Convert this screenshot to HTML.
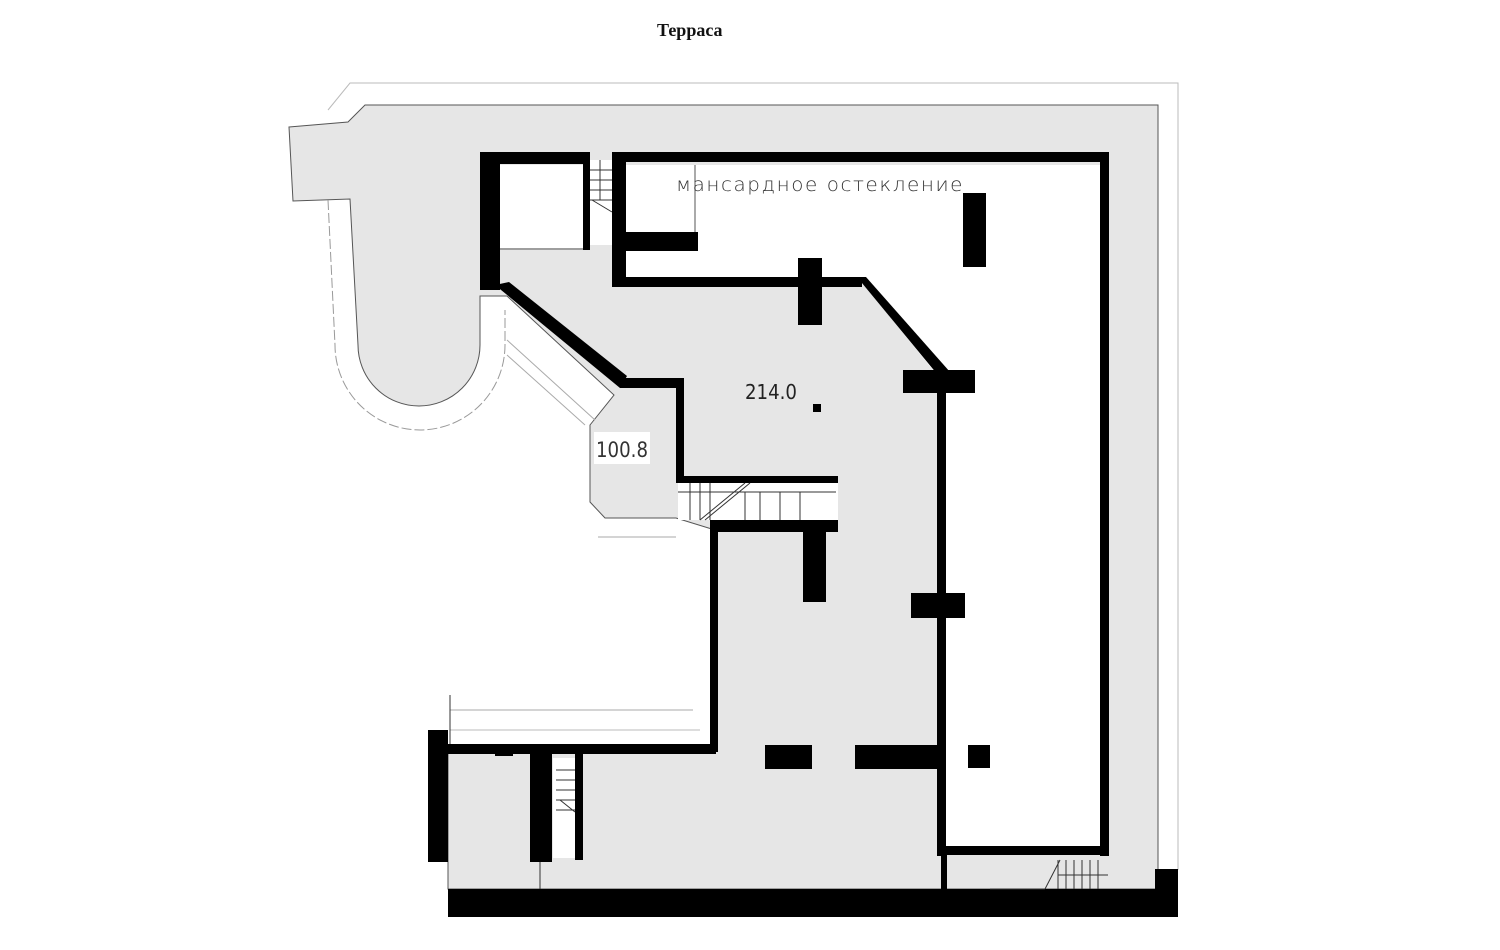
<!DOCTYPE html>
<html><head><meta charset="utf-8"><style>
html,body{margin:0;padding:0;background:#fff;}
svg{display:block;}
</style></head><body>
<svg width="1500" height="950" viewBox="0 0 1500 950" xmlns="http://www.w3.org/2000/svg">
<rect width="1500" height="950" fill="#fff"/>
<text x="657" y="36" font-family="Liberation Serif, serif" font-size="18" font-weight="bold" fill="#111">Терраса</text>
<polyline points="328,110 350,83 1178,83 1178,870" fill="none" stroke="#bbb" stroke-width="1"/>
<path d="M289,127 L348,122 L365,105 L1158,105 L1158,889 L448,889 L448,745 L715,745 L715,530 L676,518 L605,518 L590,502 L590,425 L614,395 L507,296 L480,296 L480,345 A61,61 0 0 1 358,345 L350,199 L293,201 Z" fill="#e6e6e6" stroke="#555" stroke-width="1"/>
<path d="M328,200 L335,345 A85,85 0 0 0 505,345 L505,310" fill="none" stroke="#999" stroke-width="1" stroke-dasharray="10,3"/>
<line x1="507" y1="340" x2="595" y2="420" stroke="#aaa"/>
<line x1="507" y1="355" x2="585" y2="425" stroke="#aaa"/>
<line x1="598" y1="537" x2="676" y2="537" stroke="#aaa"/>
<line x1="450" y1="710" x2="693" y2="710" stroke="#aaa"/>
<line x1="450" y1="730" x2="700" y2="730" stroke="#bbb"/>
<line x1="450" y1="695" x2="450" y2="745" stroke="#333"/>
<rect x="500" y="165" width="83" height="83" fill="#fff"/>
<line x1="500" y1="249" x2="583" y2="249" stroke="#555"/>
<rect x="588" y="160" width="24" height="85" fill="#fff"/>
<g stroke="#333" stroke-width="1">
<line x1="590" y1="170" x2="612" y2="170"/><line x1="590" y1="180" x2="612" y2="180"/><line x1="590" y1="190" x2="612" y2="190"/><line x1="590" y1="200" x2="612" y2="200"/><line x1="600" y1="160" x2="600" y2="200"/><line x1="592" y1="200" x2="612" y2="212"/>
</g>
<path d="M626,165 L1100,165 L1100,850 L945,850 L945,385 L862,282 L626,282 Z" fill="#fff"/>
<line x1="695" y1="165" x2="695" y2="232" stroke="#555"/>
<rect x="678" y="483" width="160" height="37" fill="#fff"/>
<g fill="#000">
<rect x="480" y="152" width="20" height="138"/>
<rect x="480" y="152" width="108" height="12"/>
<rect x="583" y="152" width="7" height="98"/>
<rect x="612" y="152" width="496" height="10"/>
<rect x="612" y="152" width="14" height="135"/>
<rect x="626" y="232" width="72" height="19"/>
<rect x="626" y="277" width="236" height="10"/>
<polygon points="857,277 866,277 950,372 942,380"/>
<rect x="1100" y="152" width="9" height="704"/>
<rect x="937" y="372" width="9" height="484"/>
<rect x="937" y="846" width="172" height="9"/>
<polygon points="495,285 509,282 627,376 620,388"/>
<rect x="620" y="378" width="64" height="10"/>
<rect x="676" y="378" width="8" height="104"/>
<rect x="676" y="476" width="162" height="7"/>
<rect x="710" y="520" width="128" height="12"/>
<rect x="710" y="520" width="8" height="232"/>
<rect x="803" y="530" width="23" height="72"/>
<rect x="448" y="744" width="268" height="10"/>
<rect x="428" y="730" width="20" height="132"/>
<rect x="495" y="744" width="18" height="12"/>
<rect x="530" y="750" width="22" height="112"/>
<rect x="575" y="750" width="8" height="110"/>
<rect x="798" y="258" width="24" height="67"/>
<rect x="903" y="370" width="72" height="23"/>
<rect x="963" y="193" width="23" height="74"/>
<rect x="911" y="593" width="54" height="25"/>
<rect x="765" y="745" width="47" height="24"/>
<rect x="855" y="745" width="86" height="24"/>
<rect x="968" y="745" width="22" height="23"/>
<rect x="813" y="404" width="8" height="8"/>
<rect x="448" y="889" width="730" height="28"/>
<rect x="1155" y="869" width="23" height="22"/>
<rect x="941" y="855" width="6" height="35"/>
</g>
<g stroke="#333" stroke-width="1">
<line x1="678" y1="492" x2="836" y2="492"/>
<line x1="690" y1="483" x2="690" y2="520"/><line x1="700" y1="483" x2="700" y2="520"/><line x1="710" y1="483" x2="710" y2="520"/><line x1="745" y1="492" x2="745" y2="520"/><line x1="760" y1="492" x2="760" y2="520"/><line x1="780" y1="492" x2="780" y2="520"/><line x1="800" y1="492" x2="800" y2="520"/>
<line x1="700" y1="520" x2="745" y2="483"/><line x1="705" y1="520" x2="750" y2="483"/>
</g>
<rect x="553" y="758" width="22" height="100" fill="#fff"/>
<g stroke="#333" stroke-width="1">
<line x1="556" y1="770" x2="575" y2="770"/><line x1="556" y1="780" x2="575" y2="780"/><line x1="556" y1="790" x2="575" y2="790"/><line x1="556" y1="800" x2="575" y2="800"/><line x1="556" y1="810" x2="575" y2="810"/>
<line x1="560" y1="800" x2="575" y2="812"/>
</g>
<line x1="540" y1="862" x2="540" y2="889" stroke="#333"/>
<g stroke="#333" stroke-width="1">
<line x1="1045" y1="889" x2="1060" y2="860"/>
<line x1="1058" y1="860" x2="1058" y2="889"/><line x1="1066" y1="860" x2="1066" y2="889"/><line x1="1074" y1="860" x2="1074" y2="889"/><line x1="1082" y1="860" x2="1082" y2="889"/><line x1="1090" y1="860" x2="1090" y2="889"/><line x1="1098" y1="860" x2="1098" y2="889"/>
<line x1="1058" y1="875" x2="1108" y2="875"/>
<line x1="990" y1="889" x2="1045" y2="889"/>
</g>
<text x="676" y="191" font-family="DejaVu Sans, sans-serif" font-size="19" font-weight="200" fill="#333" letter-spacing="1.5" textLength="288" lengthAdjust="spacingAndGlyphs">мансардное остекление</text>
<text x="745" y="399" font-family="DejaVu Sans, sans-serif" font-size="20" fill="#222" textLength="52" lengthAdjust="spacingAndGlyphs">214.0</text>
<rect x="594" y="432" width="56" height="32" fill="#fff"/>
<text x="596" y="457" font-family="DejaVu Sans, sans-serif" font-size="21" fill="#333" textLength="52" lengthAdjust="spacingAndGlyphs">100.8</text>
</svg>
</body></html>
